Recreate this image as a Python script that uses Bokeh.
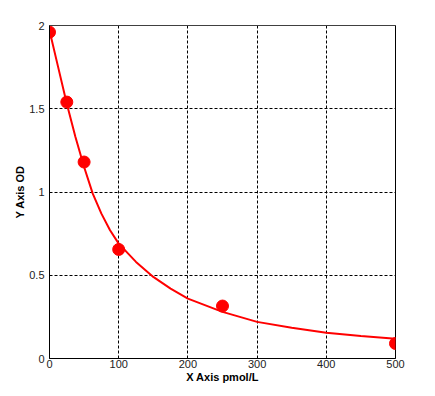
from bokeh.plotting import figure
from bokeh.models import Range1d, FixedTicker, Span
from bokeh.embed import file_html
from bokeh.resources import INLINE

# measured standard points
conc = [0, 25, 50, 100, 250, 500]
od = [1.96, 1.54, 1.18, 0.655, 0.315, 0.09]

# fitted curve
curve_x = [0, 12.5, 25, 37.5, 50, 62.5, 75, 87.5, 100, 125, 150, 175, 200, 250, 300, 350, 400, 450, 500]
curve_y = [1.97, 1.75, 1.53, 1.33, 1.15, 0.99, 0.87, 0.77, 0.69, 0.58, 0.49, 0.42, 0.36, 0.28, 0.22, 0.185, 0.155, 0.135, 0.118]

x_ticks = [0, 100, 200, 300, 400, 500]
y_ticks = [0, 0.5, 1, 1.5, 2]
y_tick_labels = ["0", "0.5", "1", "1.5", "2"]

p = figure(output_backend="svg", toolbar_location=None,
           frame_width=346, frame_height=333,
           min_border_left=49, min_border_right=28, min_border_top=25, min_border_bottom=28,
           x_range=Range1d(0, 500), y_range=Range1d(0, 2))
p.background_fill_color = "white"
p.border_fill_color = "white"
p.outline_line_color = "black"
p.outline_line_width = 1

font = "Liberation Sans"
for ax in (p.xaxis, p.yaxis):
    ax.major_tick_line_color = None
    ax.minor_tick_line_color = None
    ax.major_tick_out = 0
    ax.major_tick_in = 0
    ax.axis_line_color = "black"
    ax.major_label_text_font = font
    ax.major_label_text_font_size = "11px"
    ax.major_label_text_color = "#222222"
    ax.axis_label_text_font = font
    ax.axis_label_text_font_size = "11px"
    ax.axis_label_text_font_style = "bold"
    ax.axis_label_text_color = "black"
    ax.axis_label_standoff = 0

p.xaxis.major_label_standoff = 1
p.yaxis.major_label_standoff = 5

p.xaxis.ticker = FixedTicker(ticks=x_ticks)
p.yaxis.ticker = FixedTicker(ticks=y_ticks)
p.yaxis.major_label_overrides = {t: l for t, l in zip(y_ticks, y_tick_labels)}
p.xaxis.axis_label = "X Axis pmol/L"
p.yaxis.axis_label = "Y Axis OD"

for g in (p.xgrid, p.ygrid):
    g.grid_line_color = "black"
    g.grid_line_dash = "3 2"
    g.grid_line_width = 1
p.xgrid.ticker = FixedTicker(ticks=x_ticks[1:-1])
p.ygrid.ticker = FixedTicker(ticks=y_ticks[1:-1])

p.add_layout(Span(location=2, dimension="width", line_color="#808080", line_width=1))

p.line(curve_x, curve_y, line_color="red", line_width=2)
p.scatter(conc, od, size=12, fill_color="red", line_color="red")

open("out.html", "w").write(file_html(p, INLINE))
